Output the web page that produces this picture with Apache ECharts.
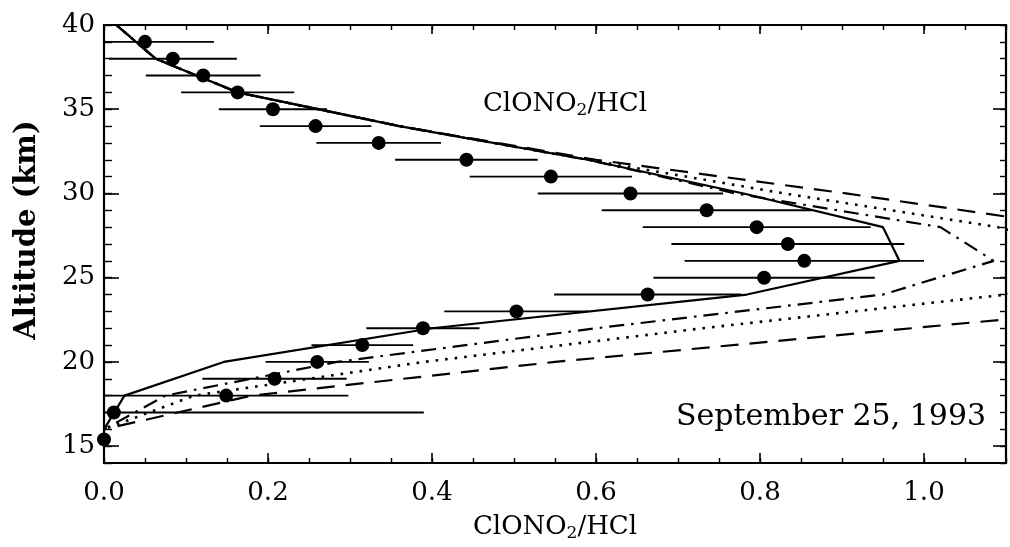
<!DOCTYPE html>
<html>
<head>
<meta charset="utf-8">
<script src="https://cdn.jsdelivr.net/npm/echarts@6/dist/echarts.min.js"></script>
<style>
  html, body { margin: 0; padding: 0; background: #fff; }
  #chart { width: 1010px; height: 547px; }
</style>
</head>
<body>
<div id="chart"></div>
<script>
// Measured ClONO2/HCl ratio profile with horizontal error bars
const altObs   = [39, 38, 37, 36, 35, 34, 33, 32, 31, 30, 29, 28, 27, 26, 25, 24, 23, 22, 21, 20, 19, 18, 17, 15.4];
const ratioObs = [0.050, 0.084, 0.121, 0.163, 0.206, 0.258, 0.335, 0.442, 0.545, 0.642, 0.735, 0.796,
                  0.834, 0.854, 0.805, 0.663, 0.503, 0.389, 0.315, 0.260, 0.208, 0.149, 0.012, 0.0];
const errObs   = [0.084, 0.078, 0.070, 0.069, 0.066, 0.068, 0.076, 0.087, 0.099, 0.113, 0.128, 0.139,
                  0.142, 0.146, 0.135, 0.114, 0.088, 0.069, 0.062, 0.063, 0.088, 0.149, 0.378, 0.0];

// Model profiles on a 2 km altitude grid
const altModel     = [40, 38, 36, 34, 32, 30, 28, 26, 24, 22, 20, 18, 16];
const modelSolid   = [0.015, 0.063, 0.163, 0.36, 0.59, 0.78, 0.95, 0.97, 0.784, 0.40, 0.146, 0.025, 0.0];
const modelDashed  = [0.015, 0.063, 0.163, 0.36, 0.60, 0.905, 1.19, 1.50, 1.42, 0.985, 0.55, 0.18, 0.0];
const modelDotted  = [0.015, 0.063, 0.163, 0.36, 0.59, 0.83, 1.09, 1.25, 1.10, 0.73, 0.39, 0.11, 0.0];
const modelDashDot = [0.015, 0.063, 0.163, 0.36, 0.59, 0.77, 1.02, 1.085, 0.95, 0.60, 0.284, 0.075, 0.0];

// Axis ticks
const xMajorTicks = [0, 0.2, 0.4, 0.6, 0.8, 1.0];
const yMajorTicks = [15, 20, 25, 30, 35, 40];

const FONT = '"DejaVu Serif", "Liberation Serif", serif';
const INK = '#000';

const pairs = (xs, ys) => xs.map((v, i) => [v, ys[i]]);

const baseAxis = {
  type: 'value',
  axisLine: { show: false, onZero: false },
  axisLabel: { show: false },
  splitLine: { show: false },
  axisTick: { show: true, inside: true, lineStyle: { color: INK, width: 1.6 } }
};

function xAx(pos, opts) {
  return Object.assign({}, baseAxis, { position: pos, min: 0, max: 1.1 }, opts);
}
function yAx(pos, opts) {
  return Object.assign({}, baseAxis, { position: pos, min: 14, max: 40 }, opts);
}

const chart = echarts.init(document.getElementById('chart'), null, { renderer: 'canvas' });

chart.setOption({
  animation: false,
  backgroundColor: '#fff',
  grid: { left: 104, top: 25, right: 4, bottom: 82, show: true, borderColor: INK, borderWidth: 2.2 },
  xAxis: [
    xAx('bottom', {
      axisTick: { show: true, inside: true, length: 10, customValues: xMajorTicks, lineStyle: { color: INK, width: 1.6 } },
      axisLabel: { show: true, customValues: xMajorTicks, margin: 17, color: INK,
                   fontFamily: FONT, fontSize: 26, formatter: v => v.toFixed(1) },
      name: 'ClONO{s|2}/HCl',
      nameLocation: 'middle',
      nameGap: 50,
      nameTextStyle: { fontFamily: FONT, fontSize: 26, color: INK,
                       rich: { s: { fontFamily: FONT, fontSize: 17, color: INK, padding: [12, 0, 0, 0] } } }
    }),
    xAx('bottom', { interval: 0.05, axisTick: { show: true, inside: true, length: 5, lineStyle: { color: INK, width: 1.4 } } }),
    xAx('top', { axisTick: { show: true, inside: true, length: 9, customValues: xMajorTicks, lineStyle: { color: INK, width: 1.6 } } }),
    xAx('top', { interval: 0.05, axisTick: { show: true, inside: true, length: 5, lineStyle: { color: INK, width: 1.4 } } })
  ],
  yAxis: [
    yAx('left', {
      axisTick: { show: true, inside: true, length: 15, customValues: yMajorTicks, lineStyle: { color: INK, width: 1.6 } },
      axisLabel: { show: true, customValues: yMajorTicks, margin: 9, color: INK, fontFamily: FONT, fontSize: 26 }
    }),
    yAx('left', { interval: 1, axisTick: { show: true, inside: true, length: 8, lineStyle: { color: INK, width: 1.4 } } }),
    yAx('right', { axisTick: { show: true, inside: true, length: 13, customValues: yMajorTicks, lineStyle: { color: INK, width: 1.6 } } }),
    yAx('right', { interval: 1, axisTick: { show: true, inside: true, length: 6, lineStyle: { color: INK, width: 1.4 } } })
  ],
  graphic: [
    {
      type: 'text', position: [27, 230], rotation: Math.PI / 2,
      style: { text: 'Altitude (km)', fontFamily: FONT, fontSize: 29, fontWeight: 'bold', fill: INK,
               textAlign: 'center', textVerticalAlign: 'middle' }
    },
    {
      type: 'text', position: [565, 104],
      style: { text: 'ClONO{s|2}/HCl', fontFamily: FONT, fontSize: 26, fill: INK,
               textAlign: 'center', textVerticalAlign: 'middle',
               rich: { s: { fontFamily: FONT, fontSize: 17, fill: INK, padding: [13, 0, 0, 0] } } }
    },
    {
      type: 'text', position: [831, 417],
      style: { text: 'September 25, 1993', fontFamily: FONT, fontSize: 30, fill: INK,
               textAlign: 'center', textVerticalAlign: 'middle' }
    }
  ],
  series: [
    {
      type: 'line', name: 'dashed', xAxisIndex: 0, yAxisIndex: 0, clip: true, symbol: 'none',
      data: pairs(modelDashed, altModel),
      lineStyle: { color: INK, width: 2.2, type: [18, 11] }
    },
    {
      type: 'line', name: 'dotted', xAxisIndex: 0, yAxisIndex: 0, clip: true, symbol: 'none',
      data: pairs(modelDotted, altModel),
      lineStyle: { color: INK, width: 2.6, type: [2.6, 7] }
    },
    {
      type: 'line', name: 'dash-dot', xAxisIndex: 0, yAxisIndex: 0, clip: true, symbol: 'none',
      data: pairs(modelDashDot, altModel),
      lineStyle: { color: INK, width: 2.2, type: [15, 7, 2.6, 7] }
    },
    {
      type: 'line', name: 'solid', xAxisIndex: 0, yAxisIndex: 0, clip: true, symbol: 'none',
      data: pairs(modelSolid, altModel),
      lineStyle: { color: INK, width: 2.2 }
    },
    {
      type: 'custom', name: 'error', xAxisIndex: 0, yAxisIndex: 0, clip: true,
      data: altObs.map((a, i) => [ratioObs[i], errObs[i], a]),
      encode: { x: 0, y: 2 },
      renderItem: function (params, api) {
        const x = api.value(0), e = api.value(1), y = api.value(2);
        if (!(e > 0)) return null;
        const p1 = api.coord([Math.max(0, x - e), y]);
        const p2 = api.coord([Math.min(1.1, x + e), y]);
        return { type: 'line', shape: { x1: p1[0], y1: p1[1], x2: p2[0], y2: p2[1] },
                 style: { stroke: INK, lineWidth: 1.9 } };
      }
    },
    {
      type: 'scatter', name: 'observed', xAxisIndex: 0, yAxisIndex: 0,
      data: pairs(ratioObs, altObs),
      symbol: 'circle', symbolSize: 14,
      itemStyle: { color: INK, opacity: 1 },
      z: 5
    }
  ]
});
</script>
</body>
</html>
